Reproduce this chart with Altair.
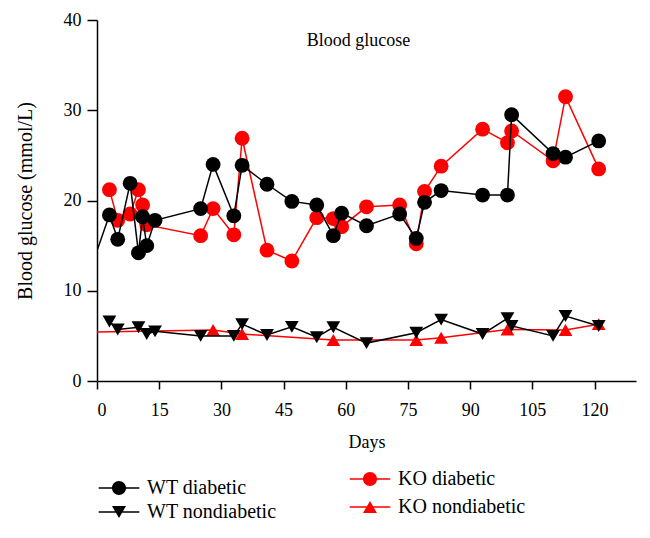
import altair as alt
import pandas as pd

# ---- data ----
wt_d_days = [-2, 3, 5, 8, 10, 11, 12, 14, 25, 28, 33, 35, 41, 47, 53, 57, 59, 65, 73, 77, 79, 83, 93, 99, 100, 110, 113, 121]
wt_d_vals = [11.8, 18.4, 15.7, 21.9, 14.2, 18.2, 15.0, 17.8, 19.1, 24.0, 18.3, 23.9, 21.8, 19.9, 19.5, 16.1, 18.6, 17.2, 18.5, 15.8, 19.8, 21.1, 20.6, 20.6, 29.5, 25.2, 24.8, 26.6]

ko_d_days = [3, 5, 8, 10, 11, 12, 25, 28, 33, 35, 41, 47, 53, 57, 59, 65, 73, 77, 79, 83, 93, 99, 100, 110, 113, 121]
ko_d_vals = [21.2, 17.8, 18.5, 21.2, 19.5, 17.3, 16.1, 19.1, 16.2, 26.9, 14.5, 13.3, 18.1, 18.0, 17.1, 19.3, 19.5, 15.2, 21.0, 23.8, 27.9, 26.4, 27.7, 24.4, 31.5, 23.5]

wt_n_days = [3, 5, 10, 12, 14, 25, 33, 35, 41, 47, 53, 57, 65, 77, 83, 93, 99, 100, 110, 113, 121]
wt_n_vals = [6.6, 5.7, 5.95, 5.2, 5.5, 5.0, 5.0, 6.3, 5.1, 6.0, 4.85, 5.95, 4.2, 5.35, 6.8, 5.2, 6.95, 6.1, 5.0, 7.2, 6.1]

ko_n_days = [-2, 28, 35, 57, 77, 83, 99, 113, 121]
ko_n_vals = [5.4, 5.65, 5.2, 4.55, 4.55, 4.8, 5.7, 5.65, 6.3]

x_ticks = [0, 15, 30, 45, 60, 75, 90, 105, 120]
y_ticks = [0, 10, 20, 30, 40]

wt_names = ["WT diabetic", "WT nondiabetic"]
ko_names = ["KO diabetic", "KO nondiabetic"]

SERIF = "Liberation Serif"
RED = "#ff0000"
BLACK = "#000000"


def frame(name, days, vals):
    return pd.DataFrame({"series": name, "day": days, "glucose": vals})


x_enc = alt.X(
    "day:Q",
    scale=alt.Scale(domain=[0, 130], nice=False, zero=False),
    axis=alt.Axis(values=x_ticks, title="Days", grid=False, tickSize=8,
                  labelPadding=12, titlePadding=14),
)
y_enc = alt.Y(
    "glucose:Q",
    scale=alt.Scale(domain=[0, 40], nice=False),
    axis=alt.Axis(values=y_ticks, title="Blood glucose (mmol/L)", grid=False,
                  tickSize=10, labelPadding=6, titlePadding=28, titleFontSize=20),
)


def series_layers(df, color, shape, size):
    base = alt.Chart(df).encode(x=x_enc, y=y_enc, order="day:Q")
    line = base.mark_line(color=color, strokeWidth=1.5, clip=True)
    pts = base.mark_point(color=color, fill=color, filled=True, shape=shape,
                          size=size, opacity=1, clip=True)
    return [line, pts]


layers = []
layers += series_layers(frame("KO nondiabetic", ko_n_days, ko_n_vals), RED, "triangle-up", 190)
layers += series_layers(frame("WT nondiabetic", wt_n_days, wt_n_vals), BLACK, "triangle-down", 190)
layers += series_layers(frame("KO diabetic", ko_d_days, ko_d_vals), RED, "circle", 220)
layers += series_layers(frame("WT diabetic", wt_d_days, wt_d_vals), BLACK, "circle", 220)

# legend symbols: line with marker
circ = "M-2.9,-0.11H2.9V0.11H-2.9Z M1,0A1,1,0,1,1,-1,0A1,1,0,1,1,1,0Z"
tdown = "M-2.9,-0.11H2.9V0.11H-2.9Z M-1,-0.85L1,-0.85L0,0.85Z"
tup = "M-2.9,-0.11H2.9V0.11H-2.9Z M0,-0.85L1,0.85L-1,0.85Z"


def legend_layer(names, paths, color, lx, ly, rowpad):
    return alt.Chart(pd.DataFrame({"entry": names})).mark_point(
        filled=True, opacity=0, color=color
    ).encode(
        x=alt.value(0), y=alt.value(0),
        shape=alt.Shape(
            "entry:N",
            scale=alt.Scale(domain=names, range=paths),
            legend=alt.Legend(
                title=None, orient="none", legendX=lx, legendY=ly,
                symbolSize=196, symbolFillColor=color, symbolStrokeWidth=0,
                symbolOpacity=1, labelFont=SERIF, labelFontSize=20,
                labelColor="black", labelOffset=18, rowPadding=rowpad,
                padding=0, direction="vertical",
            ),
        ),
    )


layers.append(legend_layer(wt_names, [circ, tdown], BLACK, 12, 458, 4))
layers.append(legend_layer(ko_names, [circ, tup], RED, 263, 449, 8))

chart = alt.layer(*layers).resolve_scale(shape="independent").resolve_legend(
    shape="independent"
).properties(
    width=539,
    height=361,
    autosize=alt.AutoSizeParams(type="none"),
    padding={"left": 89, "top": 12, "right": 6, "bottom": 150},
    title=alt.TitleParams(
        "Blood glucose", orient="top", anchor="middle", frame="group",
        offset=-39, dx=-8, font=SERIF, fontSize=18, fontWeight="normal",
        color="black",
    ),
).configure_view(stroke=None).configure_axis(
    domainColor="black", domainWidth=1.5, tickColor="black", tickWidth=1.5,
    labelFont=SERIF, labelFontSize=18, labelColor="black",
    titleFont=SERIF, titleFontSize=18, titleFontWeight="normal", titleColor="black",
)

chart.save("out.html", embed_options={"renderer": "svg", "actions": False})
